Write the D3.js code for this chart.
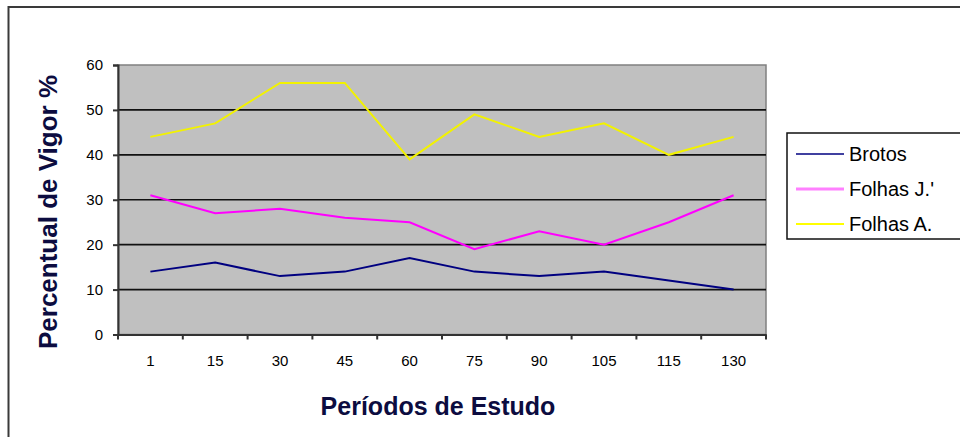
<!DOCTYPE html>
<html>
<head>
<meta charset="utf-8">
<script src="https://cdn.jsdelivr.net/npm/d3@7"></script>
<style>
  body { margin: 0; background: #fff; }
  svg { display: block; font-family: Arial, "Liberation Sans", sans-serif; }
</style>
</head>
<body>
<div id="chart"></div>
<script>
// dados
var periodos = ["1", "15", "30", "45", "60", "75", "90", "105", "115", "130"];
var brotos = [14, 16, 13, 14, 17, 14, 13, 14, 12, 10];
var folhasJ = [31, 27, 28, 26, 25, 19, 23, 20, 25, 31];
var folhasA = [44, 47, 56, 56, 39, 49, 44, 47, 40, 44];
var yTicks = [0, 10, 20, 30, 40, 50, 60];
var seriesNames = ["Brotos", "Folhas J.'", "Folhas A."];

var w = 960;
var h = 437;
var plot = { left: 118, top: 65, right: 766, bottom: 334.5 };

var series = [
  { name: seriesNames[0], values: brotos, color: "#000080", legendColor: "#000080", legendWidth: 1.5 },
  { name: seriesNames[1], values: folhasJ, color: "#ff00ff", legendColor: "#ff80ff", legendWidth: 3 },
  { name: seriesNames[2], values: folhasA, color: "#f2f200", legendColor: "#ffff00", legendWidth: 2 }
];

var svg = d3.select("#chart").append("svg").attr("width", w).attr("height", h);

// moldura externa
svg.append("path")
  .attr("d", "M8.5,437 L8.5,7 L960,7")
  .attr("fill", "none")
  .attr("stroke", "#3a3a3a")
  .attr("stroke-width", 2);

// escalas
var xScale = d3.scaleBand().domain(periodos).range([plot.left, plot.right]).padding(0);
var yScale = d3.scaleLinear().domain([0, 60]).range([plot.bottom, plot.top]);

// area do grafico
svg.append("rect")
  .attr("x", plot.left)
  .attr("y", plot.top)
  .attr("width", plot.right - plot.left)
  .attr("height", plot.bottom - plot.top)
  .attr("fill", "#c0c0c0")
  .attr("stroke", "#808080")
  .attr("stroke-width", 1.5);

// linhas de grade
svg.selectAll("line.grid")
  .data(yTicks.filter(function (d) { return d > 0 && d < 60; }))
  .enter()
  .append("line")
  .attr("class", "grid")
  .attr("x1", plot.left)
  .attr("x2", plot.right)
  .attr("y1", function (d) { return yScale(d); })
  .attr("y2", function (d) { return yScale(d); })
  .attr("stroke", "#111")
  .attr("stroke-width", 1.6);

// eixo y
var yAxis = d3.axisLeft(yScale).tickValues(yTicks).tickSize(5).tickPadding(8);
var gy = svg.append("g")
  .attr("transform", "translate(" + plot.left + ",0)")
  .call(yAxis);
gy.select(".domain").attr("stroke", "#333").attr("stroke-width", 2);
gy.selectAll(".tick line").attr("stroke", "#333").attr("stroke-width", 2);
gy.selectAll(".tick text")
  .attr("font-size", "15px")
  .attr("font-family", "Arial, 'Liberation Sans', sans-serif")
  .attr("fill", "#000")
  .attr("dx", "-2");

// eixo x (marcas entre as categorias)
var xAxis = d3.axisBottom(xScale).tickSize(0).tickPadding(21);
var gx = svg.append("g")
  .attr("transform", "translate(0," + plot.bottom + ")")
  .call(xAxis);
gx.select(".domain").attr("stroke", "#333").attr("stroke-width", 2);
gx.selectAll(".tick text")
  .attr("font-size", "15px")
  .attr("font-family", "Arial, 'Liberation Sans', sans-serif")
  .attr("fill", "#000");

var bounds = periodos.map(function (d) { return xScale(d); }).concat([plot.right]);
svg.selectAll("line.xtick")
  .data(bounds)
  .enter()
  .append("line")
  .attr("class", "xtick")
  .attr("x1", function (d) { return d; })
  .attr("x2", function (d) { return d; })
  .attr("y1", plot.bottom)
  .attr("y2", plot.bottom + 5)
  .attr("stroke", "#333")
  .attr("stroke-width", 2);

// linhas das series
var line = d3.line()
  .x(function (d, i) { return xScale(periodos[i]) + xScale.bandwidth() / 2; })
  .y(function (d) { return yScale(d); });

svg.selectAll("path.serie")
  .data(series)
  .enter()
  .append("path")
  .attr("class", "serie")
  .attr("d", function (d) { return line(d.values); })
  .attr("fill", "none")
  .attr("stroke", function (d) { return d.color; })
  .attr("stroke-width", 2);

// titulos dos eixos
svg.append("text")
  .attr("transform", "translate(57,212) rotate(-90)")
  .attr("text-anchor", "middle")
  .attr("font-size", "26px")
  .attr("font-weight", "bold")
  .attr("fill", "#0c0c40")
  .text("Percentual de Vigor %");

svg.append("text")
  .attr("x", 438)
  .attr("y", 415)
  .attr("text-anchor", "middle")
  .attr("font-size", "25px")
  .attr("font-weight", "bold")
  .attr("fill", "#0c0c40")
  .text("Períodos de Estudo");

// legenda
var legend = svg.append("g").attr("transform", "translate(787,133)");
legend.append("rect")
  .attr("x", 0)
  .attr("y", 0)
  .attr("width", 200)
  .attr("height", 106)
  .attr("fill", "#fff")
  .attr("stroke", "#111")
  .attr("stroke-width", 1.5);

var item = legend.selectAll("g.item")
  .data(series)
  .enter()
  .append("g")
  .attr("class", "item")
  .attr("transform", function (d, i) { return "translate(0," + (21 + i * 35) + ")"; });
item.append("line")
  .attr("x1", 9)
  .attr("x2", 57)
  .attr("stroke", function (d) { return d.legendColor; })
  .attr("stroke-width", function (d) { return d.legendWidth; });
item.append("text")
  .attr("x", 62)
  .attr("dy", "0.35em")
  .attr("font-size", "20px")
  .attr("fill", "#000")
  .text(function (d) { return d.name; });
</script>
</body>
</html>
